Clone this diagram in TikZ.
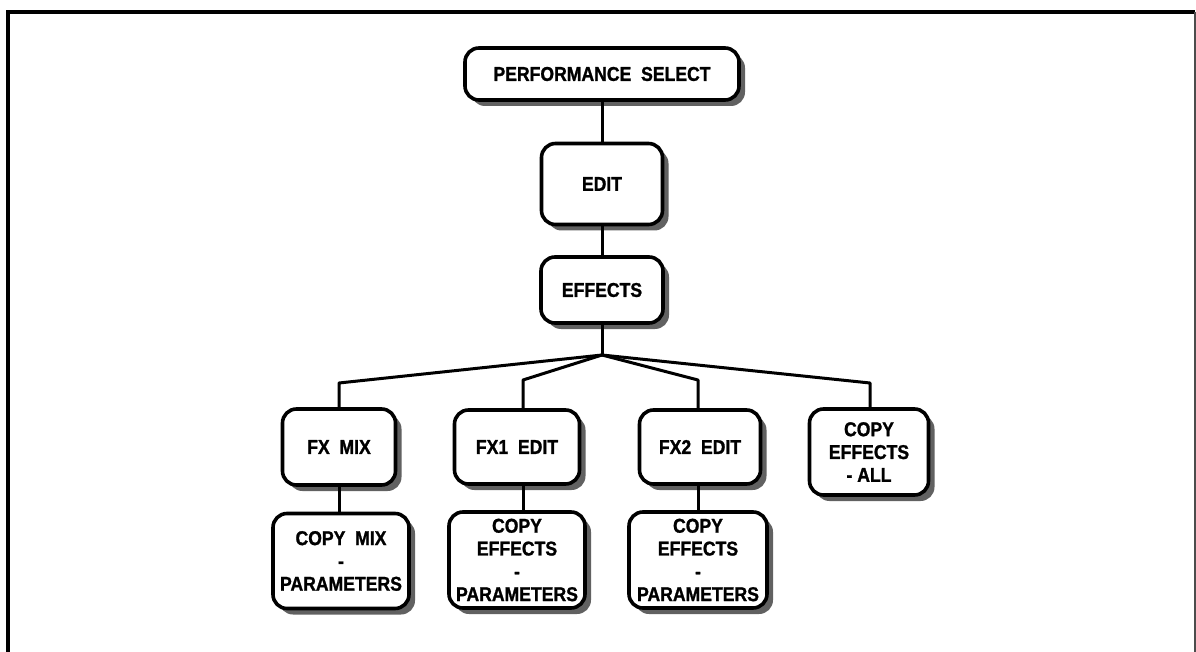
\documentclass[tikz,border=0pt]{standalone}
\usepackage{fontspec}
\setmainfont{Liberation Sans}
\newfontfamily\menufont{Liberation Sans}[FakeStretch=0.88, FakeBold=1.2]
\usetikzlibrary{shadows}
\begin{document}
\begin{tikzpicture}[x=1pt,y=-1pt,
  menubox/.style={draw, line width=3.6pt, rounded corners=14pt, fill=white,
    align=center, inner sep=1pt,
    font=\menufont\bfseries\fontsize{20}{22.8}\selectfont,
    drop shadow={shadow xshift=6pt, shadow yshift=-6pt, fill=black!62, opacity=1}},
  link/.style={line width=3pt, line join=round},
  frameline/.style={line width=4pt}]
\useasboundingbox (0,0) rectangle (1196,652);

% page frame, open at the bottom
\coordinate (f1) at (8,652);
\coordinate (f2) at (8,12);
\coordinate (f3) at (1195,12);
\coordinate (f4) at (1195,652);
\draw[frameline] (f1) -- (f2) -- (f3);
\draw[line width=1.5pt, black!70] (f3) -- (f4);

% menu boxes
\node[menubox, minimum width=274, minimum height=52] (perf) at (602,74) {PERFORMANCE\ \ SELECT};
\node[menubox, minimum width=121, minimum height=81] (edit) at (602,184) {EDIT};
\node[menubox, minimum width=122, minimum height=66] (effects) at (602,290) {EFFECTS};

\node[menubox, minimum width=113, minimum height=76] (fxmix) at (339,447) {FX\ \ MIX};
\node[menubox, minimum width=125, minimum height=74] (fx1) at (517,447) {FX1\ \ EDIT};
\node[menubox, minimum width=121, minimum height=74] (fx2) at (700,447) {FX2\ \ EDIT};
\node[menubox, minimum width=119, minimum height=86] (copyall) at (869,452) {COPY\\EFFECTS\\- ALL};

\node[menubox, minimum width=136, minimum height=95] (cmix) at (341,561) {COPY\ \ MIX\\-\\PARAMETERS};
\node[menubox, minimum width=136, minimum height=96] (cfx1) at (517,560) {COPY\\EFFECTS\\-\\PARAMETERS};
\node[menubox, minimum width=138, minimum height=96] (cfx2) at (698,560) {COPY\\EFFECTS\\-\\PARAMETERS};

% branch points
\coordinate (hub) at (602,355);
\coordinate (bmix) at (339,383);
\coordinate (bfx1) at (523,380);
\coordinate (bfx2) at (698,380);
\coordinate (ball) at (870,383);

% connectors
\draw[link] (perf.south) -- (edit.north);
\draw[link] (edit.south) -- (effects.north);
\draw[link] (effects.south) -- (hub);
\draw[link] (hub) -- (bmix) -- (fxmix.north);
\draw[link] (hub) -- (bfx1) -- (bfx1 |- fx1.north);
\draw[link] (hub) -- (bfx2) -- (bfx2 |- fx2.north);
\draw[link] (hub) -- (ball) -- (ball |- copyall.north);
\draw[link] (fxmix.south) -- (fxmix.south |- cmix.north);
\draw[link] (bfx1 |- fx1.south) -- (bfx1 |- cfx1.north);
\draw[link] (bfx2 |- fx2.south) -- (bfx2 |- cfx2.north);
\end{tikzpicture}
\end{document}
